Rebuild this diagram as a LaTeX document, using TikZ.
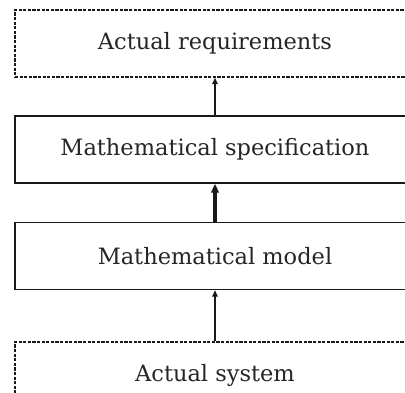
\documentclass[tikz,border=0pt]{standalone}
\usepackage{fontspec}
\setmainfont{DejaVu Serif}
\usetikzlibrary{arrows.meta}
\begin{document}
\begin{tikzpicture}[x=1pt,y=-1pt,
  box/.style={draw=black!90, line width=1.4pt, minimum width=400pt, minimum height=67pt, inner sep=0pt,
    font=\fontsize{22.5}{26}\selectfont, text=black!85},
  dbox/.style={box, dash pattern=on 3.2pt off 1.4pt},
  conn/.style={draw=black!90, line width=1.7pt, -{Triangle[length=6.5pt,width=5.5pt]}},
  tconn/.style={draw=black!90, line width=3.3pt, -{Triangle[length=9pt,width=7.5pt]}}]
\useasboundingbox (0,0) rectangle (405,393);
\fill[white] (0,0) rectangle (405,393);
\node[dbox] (req) at (215,43.5) {Actual requirements};
\node[box] (spec) at (215,149.5) {Mathematical specification};
\node[box] (model) at (215,256) {Mathematical model};
\node[dbox] (sys) at (215,375.5) {Actual system};
\draw[conn] (spec.north) -- (req.south);
\draw[tconn] (model.north) -- (spec.south);
\draw[conn] (sys.north) -- (model.south);
\end{tikzpicture}
\end{document}
